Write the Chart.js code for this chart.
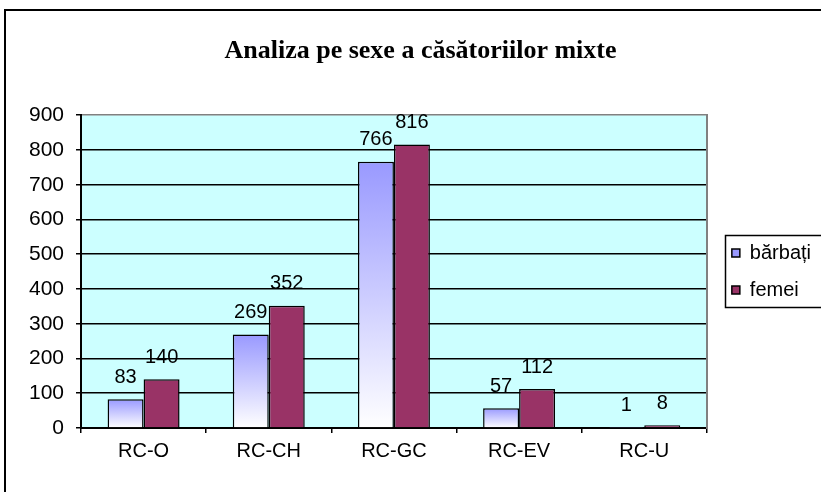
<!DOCTYPE html>
<html>
<head>
<meta charset="utf-8">
<script src="https://cdn.jsdelivr.net/npm/chart.js@4/dist/chart.umd.min.js"></script>
<style>
html,body{margin:0;padding:0;background:#fff;}
#wrap{width:821px;height:492px;position:relative;}
</style>
</head>
<body>
<div id="wrap"><canvas id="c" width="821" height="492"></canvas></div>
<script>
const categories = ['RC-O', 'RC-CH', 'RC-GC', 'RC-EV', 'RC-U'];
const barbati = [83, 269, 766, 57, 1];
const femei = [140, 352, 816, 112, 8];
const seriesNames = ['bărbați', 'femei'];
const titleText = 'Analiza pe sexe a căsătoriilor mixte';

const ARIAL = "Arial, 'Liberation Sans', sans-serif";

function barbatiColor(ctx) {
  const chart = ctx.chart;
  if (!chart.chartArea || ctx.type !== 'data') return '#CCCCFF';
  const y = chart.scales.y;
  const top = y.getPixelForValue(ctx.raw);
  const bottom = y.getPixelForValue(0);
  const g = chart.ctx.createLinearGradient(0, top, 0, bottom + 0.01);
  g.addColorStop(0, '#9999FF');
  g.addColorStop(1, '#FFFFFF');
  return g;
}

const framePlugin = {
  id: 'frame',
  beforeDraw(chart) {
    const {ctx, chartArea: a} = chart;
    ctx.save();
    ctx.fillStyle = '#CCFFFF';
    ctx.fillRect(a.left, a.top, a.right - a.left, a.bottom - a.top);
    ctx.restore();
  },
  afterDraw(chart) {
    const ctx = chart.ctx;
    ctx.save();
    ctx.strokeStyle = '#000';
    ctx.lineWidth = 2;
    ctx.strokeRect(5, 10, 1000, 1000);
    ctx.lineWidth = 1.5;
    ctx.strokeRect(725.5, 235.5, 200, 72);
    ctx.restore();
  }
};

const valueLabels = {
  id: 'valueLabels',
  afterDatasetsDraw(chart) {
    const ctx = chart.ctx;
    ctx.save();
    ctx.font = '20px ' + ARIAL;
    ctx.fillStyle = '#000';
    ctx.textAlign = 'center';
    ctx.textBaseline = 'middle';
    chart.data.datasets.forEach((ds, i) => {
      const meta = chart.getDatasetMeta(i);
      meta.data.forEach((el, j) => {
        ctx.fillText(String(ds.data[j]), el.x, el.y - 22);
      });
    });
    ctx.restore();
  }
};

new Chart(document.getElementById('c'), {
  type: 'bar',
  data: {
    labels: categories,
    datasets: [
      { label: seriesNames[0], data: barbati, backgroundColor: barbatiColor, borderColor: '#000', borderWidth: 1.5 },
      { label: seriesNames[1], data: femei, backgroundColor: '#993366', borderColor: '#000', borderWidth: 1.5 }
    ]
  },
  options: {
    responsive: false,
    animation: false,
    layout: { padding: { left: 20, right: 0, top: 0, bottom: 0 } },
    datasets: { bar: { categoryPercentage: 0.575, barPercentage: 1 } },
    plugins: {
      tooltip: { enabled: false },
      title: {
        display: true,
        text: titleText,
        color: '#000',
        font: { family: "'Times New Roman', 'Liberation Serif', serif", size: 26, weight: 'bold', lineHeight: 1.2 },
        padding: { top: 36, bottom: 48 }
      },
      legend: {
        position: 'right',
        fullSize: false,
        align: 'center',
        labels: {
          color: '#000',
          font: { family: ARIAL, size: 20 },
          boxWidth: 8,
          boxHeight: 8,
          padding: 17
        }
      }
    },
    scales: {
      x: {
        offset: true,
        grid: { display: true, drawOnChartArea: false, drawTicks: true, tickLength: 5, offset: true, color: '#000', lineWidth: 1.5 },
        border: { display: true, color: '#000', width: 2 },
        ticks: { color: '#000', font: { family: ARIAL, size: 20 }, padding: 6, maxRotation: 0 },
        afterFit(s) { s.height = 64; }
      },
      y: {
        min: 0, max: 900,
        ticks: { stepSize: 100, color: '#000', font: { family: ARIAL, size: 21 }, padding: 12 },
        grid: {
          color: (c) => (c.tick && c.tick.value === 900 ? '#808080' : '#000'),
          tickColor: '#000',
          tickLength: 5,
          lineWidth: 1.5
        },
        border: { display: true, color: '#000', width: 2 },
        afterFit(s) { s.width = 61; }
      },
      y2: {
        position: 'right',
        display: true,
        grid: { display: false, drawOnChartArea: false },
        ticks: { display: false },
        border: { display: true, color: '#808080', width: 2 },
        afterFit(s) { s.width = 8; }
      }
    }
  },
  plugins: [framePlugin, valueLabels]
});
</script>
</body>
</html>
